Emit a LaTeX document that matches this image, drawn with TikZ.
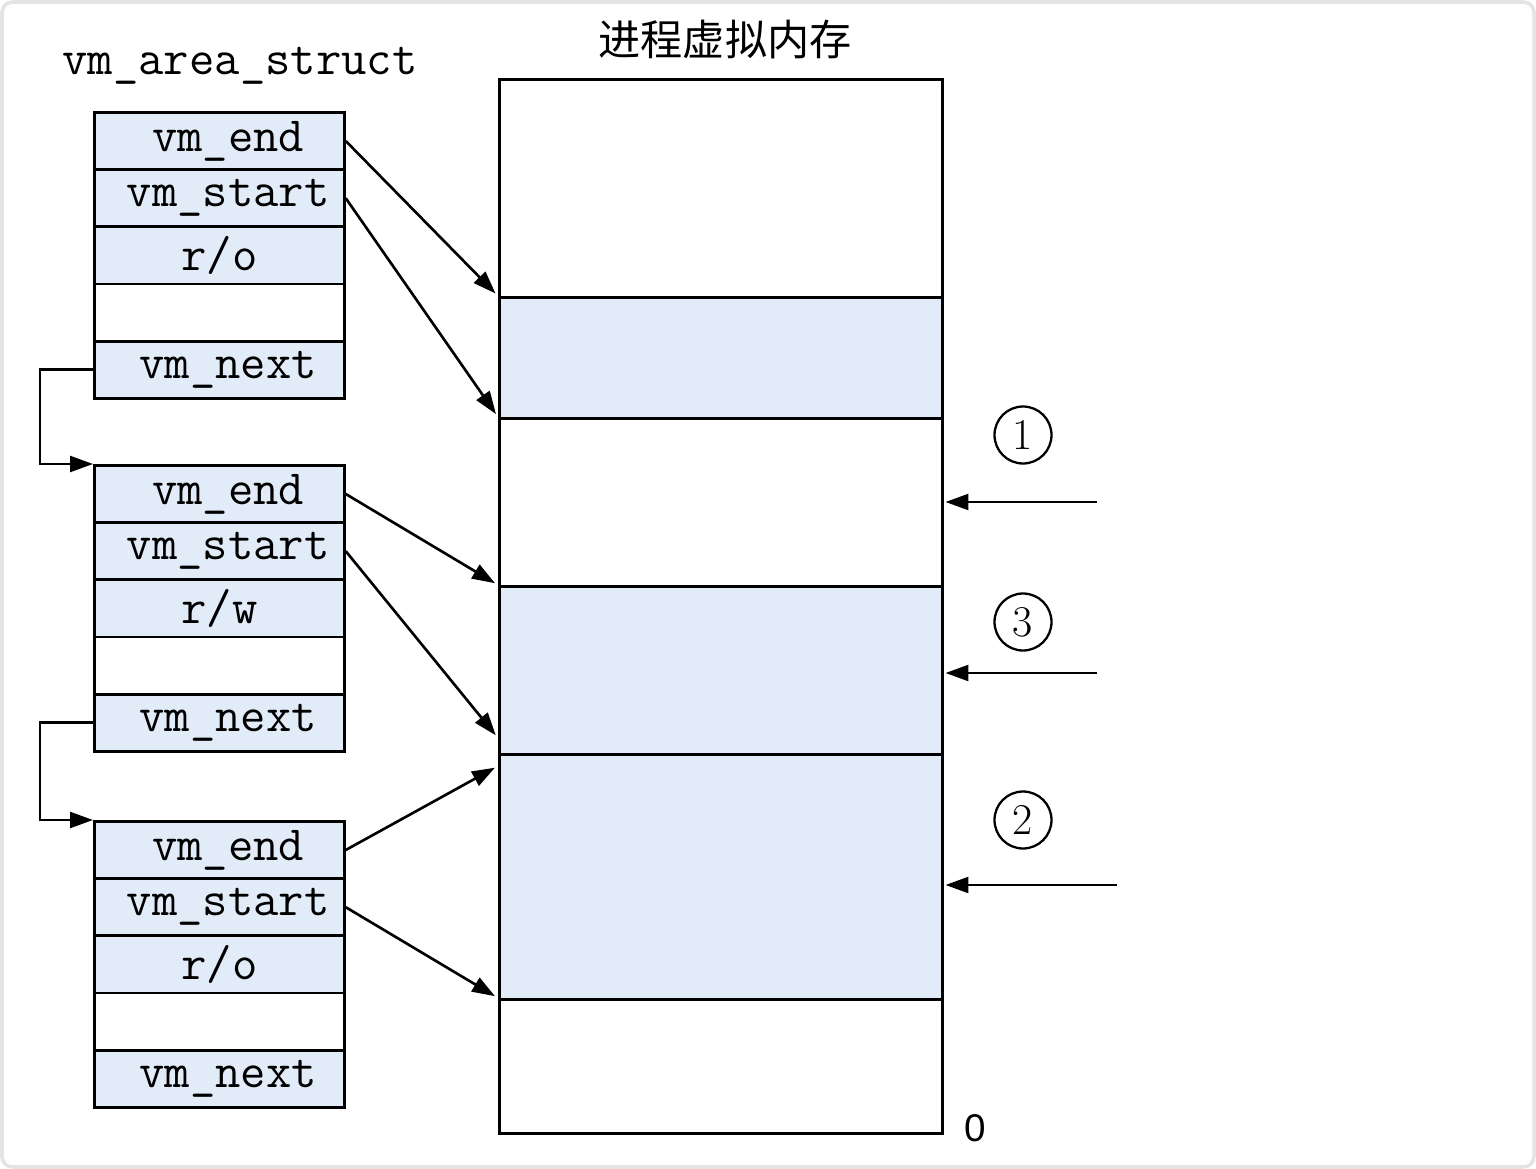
\documentclass[tikz,border=0pt]{standalone}
\usepackage{fontspec}
\newfontfamily\cjk{Noto Sans CJK SC}
\newfontfamily\labelsans{Liberation Sans}
\usetikzlibrary{arrows.meta,calc}
\definecolor{cellblue}{RGB}{226,236,248}
\definecolor{frame}{RGB}{228,228,228}
\newcommand{\mkstruct}[3]{%
  \node[bcell] (#1a) at (93,{#2}) {\hspace{0.35cm}vm\_end};
  \node[bcell] (#1b) at (93,{#2+57.2}) {\hspace{0.35cm}vm\_start};
  \node[bcell] (#1c) at (93,{#2+114.4}) {#3};
  \node[wcell] (#1d) at (93,{#2+171.6}) {};
  \node[bcell] (#1e) at (93,{#2+228.8}) {\hspace{0.35cm}vm\_next};
}
\begin{document}
\begin{tikzpicture}[x=0.02cm,y=-0.02cm,
  cell/.style={draw=black,line width=1.6pt,minimum width=5cm,minimum height=1.144cm,inner sep=0pt,anchor=north west,font=\ttfamily\fontsize{28}{30}\selectfont},
  bcell/.style={cell,fill=cellblue},
  wcell/.style={cell,fill=white},
  mem/.style={draw=black,line width=1.6pt,minimum width=8.86cm,inner sep=0pt,anchor=north west},
  arr/.style={line width=1.5pt,-{Triangle[length=13pt,width=9pt]}},
  num/.style={circle,draw,line width=1.3pt,minimum size=1.14cm,inner sep=0pt,font=\fontsize{25}{25}\selectfont}]
\useasboundingbox (0,0) rectangle (1536,1169);
\fill[white] (0,0) rectangle (1536,1169);
\draw[frame,line width=2pt,rounded corners=6pt] (2,2) rectangle (1534,1167);

% titles
\node[font=\ttfamily\fontsize{28}{30}\selectfont] (t1) at (240,66) {vm\_area\_struct};
\node[font=\cjk\fontsize{24}{26}\selectfont] (t2) at (725,40) {进程虚拟内存};

% memory
\node[mem,fill=white,minimum height=4.36cm] (m1) at (498,78) {};
\node[mem,fill=cellblue,minimum height=2.42cm] (m2) at (498,296) {};
\node[mem,fill=white,minimum height=3.36cm] (m3) at (498,417) {};
\node[mem,fill=cellblue,minimum height=3.36cm] (m4) at (498,585) {};
\node[mem,fill=cellblue,minimum height=4.9cm] (m5) at (498,753) {};
\node[mem,fill=white,minimum height=2.68cm] (m6) at (498,998) {};
\node[font=\labelsans\fontsize{22}{24}\selectfont] (zero) at (975,1128) {0};

% structs
\mkstruct{s1}{111}{r/o}
\mkstruct{s2}{464}{r/w}
\mkstruct{s3}{820}{r/o}

% links
\draw[arr] (s1e.west) -- ++(-53,0) |- (s2a.north west);
\draw[arr] (s2e.west) -- ++(-53,0) |- (s3a.north west);

% pointers into memory
\draw[arr,shorten >=2pt] (s1a.east) -- (m2.north west);
\draw[arr,shorten >=2pt] (s1b.east) -- (m3.north west);
\draw[arr,shorten >=2pt] (s2a.east) -- (m4.north west);
\draw[arr,shorten >=2pt] (s2b.east) -- ([yshift=0.3cm]m5.north west);
\draw[arr,shorten >=2pt] (s3a.east) -- ([yshift=-0.26cm]m5.north west);
\draw[arr,shorten >=2pt] (s3b.east) -- (m6.north west);

% right side
\node[num] (n1) at (1023,435) {1};
\node[num] (n3) at (1023,622) {3};
\node[num] (n2) at (1023,820) {2};
\coordinate (r1) at (1097,502);
\coordinate (r3) at (1097,673);
\coordinate (r2) at (1117,885);
\draw[arr,shorten >=1pt] (r1) -- (r1 -| m3.east);
\draw[arr,shorten >=1pt] (r3) -- (r3 -| m4.east);
\draw[arr,shorten >=1pt] (r2) -- (r2 -| m5.east);
\end{tikzpicture}
\end{document}
